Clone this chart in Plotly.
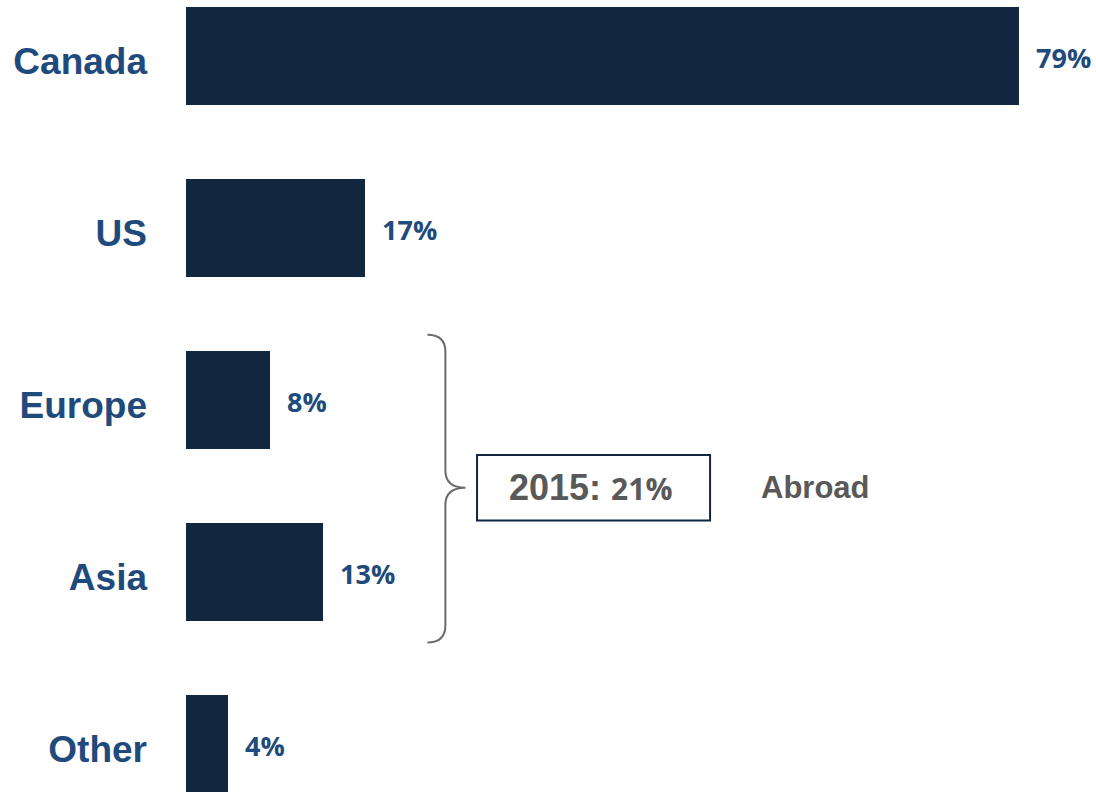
import plotly.graph_objects as go

# Share of revenue by region
regions = ["Canada", "US", "Europe", "Asia", "Other"]
shares = [79, 17, 8, 13, 4]
value_labels = [f"{v}%" for v in shares]

abroad_year = "2015:"
abroad_share = "21%"
abroad_text = "Abroad"

BAR = "#13263f"
LABEL_BLUE = "#1f4a7c"
GREY = "#595959"
BRACE = "#6b6b6b"

fig = go.Figure()
fig.add_trace(go.Bar(
    x=shares,
    y=list(range(len(regions))),
    orientation="h",
    width=0.57,
    marker=dict(color=BAR, line=dict(width=0)),
    hoverinfo="skip",
))

# value labels to the right of each bar
for i, (v, t) in enumerate(zip(shares, value_labels)):
    fig.add_annotation(
        x=v, y=i, xref="x", yref="y", text=f"<b>{t}</b>",
        showarrow=False, xanchor="left", yanchor="middle", xshift=15, yshift=-1,
        font=dict(family="Open Sans", size=27, color=LABEL_BLUE),
    )

# curly brace grouping Europe and Asia
bx0, bx1, bx2 = 22.9, 24.6, 26.5      # left tips, spine, point (in % units)
by0, bym, by1 = 1.62, 2.51, 3.41      # top, middle, bottom (category units)
r = 0.1                                # vertical size of the curls
path = (
    f"M {bx0},{by0} Q {bx1},{by0} {bx1},{by0 + r} "
    f"L {bx1},{bym - r} Q {bx1},{bym} {bx2},{bym} "
    f"Q {bx1},{bym} {bx1},{bym + r} "
    f"L {bx1},{by1 - r} Q {bx1},{by1} {bx0},{by1}"
)
fig.add_shape(type="path", path=path, xref="x", yref="y",
              line=dict(color=BRACE, width=2))

# framed box with the 2015 total abroad
fig.add_shape(type="rect", xref="x", yref="y",
              x0=27.6, x1=49.7, y0=2.32, y1=2.70,
              line=dict(color=BAR, width=2), fillcolor="rgba(0,0,0,0)")
fig.add_annotation(
    x=38.4, y=2.51, xref="x", yref="y", showarrow=False,
    xanchor="center", yanchor="middle",
    text=(f"<b>{abroad_year}</b> "
          f"<span style='font-family:Open Sans;font-size:30px'><b>{abroad_share}</b></span>"),
    font=dict(family="Liberation Sans, Arial", size=36, color=GREY),
)
fig.add_annotation(
    x=54.3, y=2.51, xref="x", yref="y", showarrow=False,
    xanchor="left", yanchor="middle",
    text=f"<b>{abroad_text}</b>",
    font=dict(family="Liberation Sans, Arial", size=31, color=GREY),
)

fig.update_layout(
    width=1096, height=792,
    margin=dict(l=186, r=0, t=0, b=0),
    paper_bgcolor="white", plot_bgcolor="white",
    showlegend=False,
    bargap=0,
)
fig.update_xaxes(range=[0, 86.3], visible=False, fixedrange=True)
fig.update_yaxes(
    range=[4.279, -0.326],
    tickmode="array",
    tickvals=list(range(len(regions))),
    ticktext=[f"<b>{r}</b>" for r in regions],
    tickfont=dict(family="Liberation Sans, Arial", size=37, color=LABEL_BLUE),
    ticks="", showline=False, showgrid=False, zeroline=False,
    ticklabelstandoff=38,
    ticklabelshift=-5,
    fixedrange=True,
)

fig.write_html("out.html")
